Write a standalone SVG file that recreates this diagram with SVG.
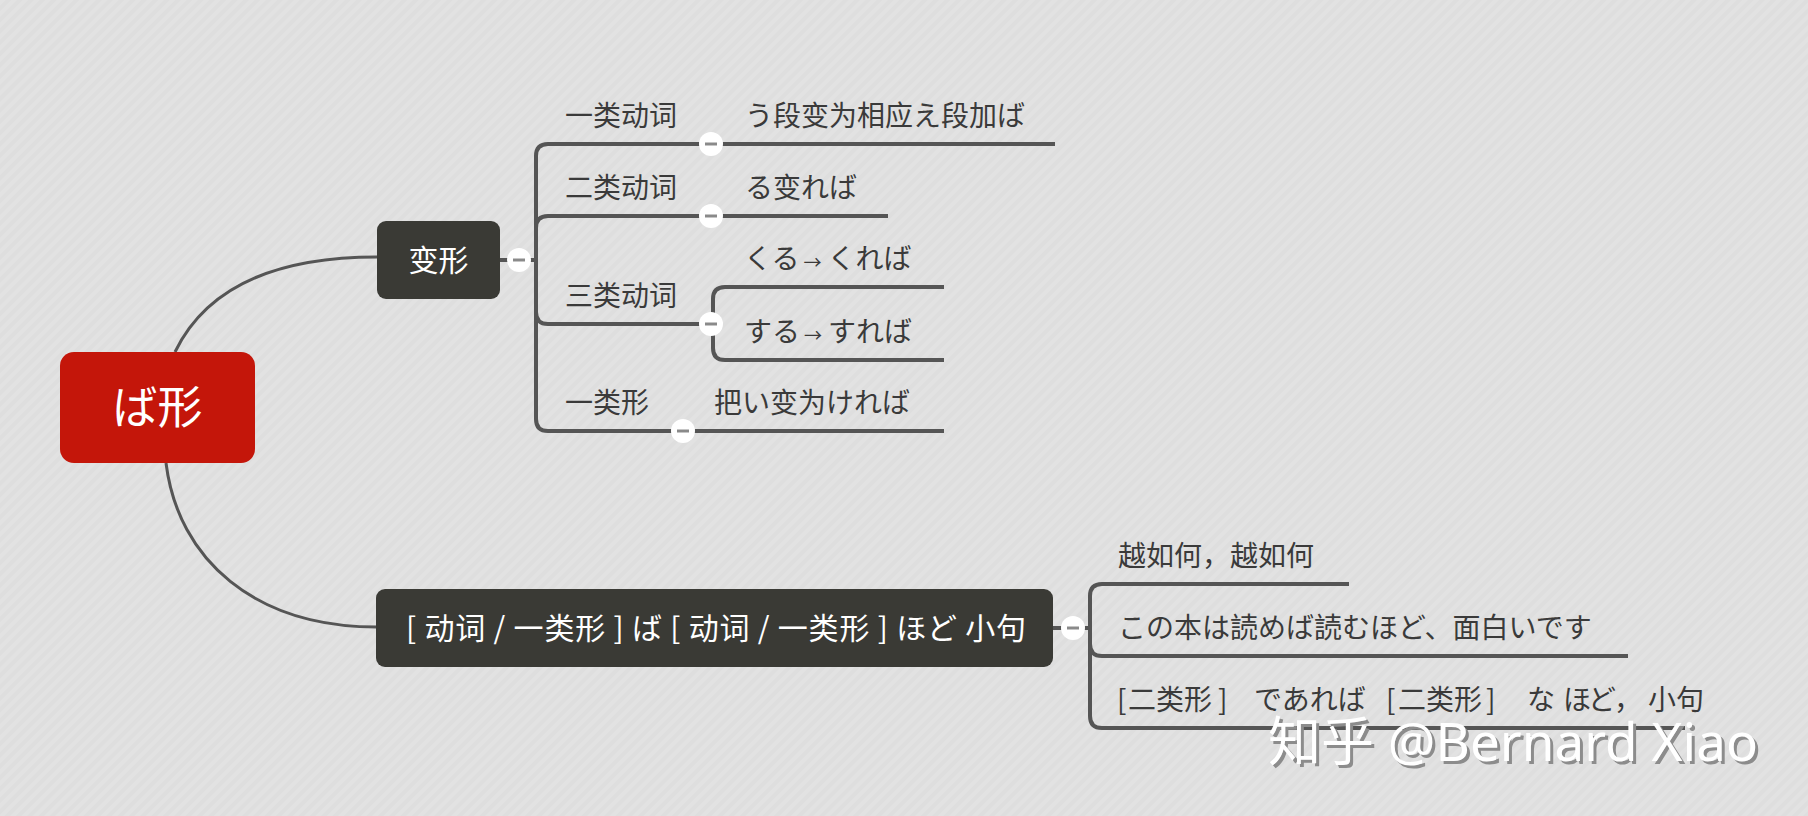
<svg xmlns="http://www.w3.org/2000/svg" width="1808" height="816" viewBox="0 0 1808 816">
<defs>
<pattern id="bg" width="8" height="8" patternUnits="userSpaceOnUse" patternTransform="rotate(45)">
<rect width="8" height="8" fill="#dedede"/>
<rect width="4" height="8" fill="#e2e2e2"/>
</pattern>
<g id="btn"><circle r="12" fill="#ffffff"/><line x1="-6" y1="0" x2="6" y2="0" stroke="#8a8a8a" stroke-width="3"/></g>
</defs>
<style>
.t{font-family:"Noto Sans CJK SC","Noto Sans CJK JP",sans-serif;font-size:28px;fill:#3a3a3a}
.w{font-family:"Noto Sans CJK SC","Noto Sans CJK JP",sans-serif;fill:#ffffff}
.br{fill:none;stroke:#555555;stroke-width:4}
.rc{fill:none;stroke:#555555;stroke-width:3}
.dark{fill:#3a3a35}
.wm{font-family:"Noto Sans","Noto Sans CJK SC",sans-serif;font-size:53px}
</style>
<rect width="1808" height="816" fill="url(#bg)"/>

<g id="connectors">
<path class="rc" d="M175,352 C205,290 270,257 377,257"/>
<path class="rc" d="M166,463 C178,560 255,627 377,627"/>
<path class="br" d="M500,260 H536"/>
<path class="br" d="M536,260 V156 Q536,144 548,144 H1055"/>
<path class="br" d="M536,260 V228 Q536,216 548,216 H888"/>
<path class="br" d="M536,260 V312 Q536,324 548,324 H713"/>
<path class="br" d="M536,260 V419 Q536,431 548,431 H944"/>
<path class="br" d="M713,324 V299 Q713,287 725,287 H944"/>
<path class="br" d="M713,324 V348 Q713,360 725,360 H944"/>
<path class="br" d="M1053,628 H1090"/>
<path class="br" d="M1090,628 V596 Q1090,584 1102,584 H1349"/>
<path class="br" d="M1090,628 V644 Q1090,656 1102,656 H1628"/>
<path class="br" d="M1090,628 V716 Q1090,728 1102,728 H1685"/>
<use href="#btn" x="519" y="260"/>
<use href="#btn" x="711" y="144"/>
<use href="#btn" x="711" y="216"/>
<use href="#btn" x="711" y="324"/>
<use href="#btn" x="683" y="431"/>
<use href="#btn" x="1073" y="628"/>
</g>

<g id="root">
<rect x="60" y="352" width="195" height="111" rx="14" fill="#c4160a"/>
<text class="w" x="157.5" y="424" font-size="45" text-anchor="middle">ば形</text>
</g>

<g id="henkei">
<rect class="dark" x="377" y="221" width="123" height="78" rx="9"/>
<text class="w" x="438.5" y="271" font-size="30" text-anchor="middle">变形</text>
</g>

<g id="ichirui-doushi"><text class="t" x="565" y="126">一类动词</text></g>
<g id="ichirui-doushi-rule"><text class="t" x="745" y="126">う段变为相应え段加ば</text></g>
<g id="nirui-doushi"><text class="t" x="565" y="198">二类动词</text></g>
<g id="nirui-doushi-rule"><text class="t" x="745" y="198">る变れば</text></g>
<g id="sanrui-doushi"><text class="t" x="565" y="306">三类动词</text></g>
<g id="kuru"><text class="t" x="744" y="269">くる<tspan font-size="18" dx="4">→</tspan><tspan dx="6">くれば</tspan></text></g>
<g id="suru"><text class="t" x="744" y="342">する<tspan font-size="18" dx="4">→</tspan><tspan dx="6">すれば</tspan></text></g>
<g id="ichirui-kei"><text class="t" x="565" y="413">一类形</text></g>
<g id="ichirui-kei-rule"><text class="t" x="714" y="413">把い变为ければ</text></g>

<g id="hodo">
<rect class="dark" x="376" y="589" width="677" height="78" rx="9"/>
<text class="w" x="716" y="639" font-size="30" text-anchor="middle" textLength="620" lengthAdjust="spacing">[ 动词 / 一类形 ] ば [ 动词 / 一类形 ] ほど 小句</text>
</g>

<g id="meaning"><text class="t" x="1118" y="566">越如何，越如何</text></g>
<g id="example"><text class="t" x="1118" y="638">この本は読めば読むほど、面白いです</text></g>
<g id="nirui-kei"><text class="t" y="710"><tspan x="1117">[</tspan><tspan x="1128">二类形</tspan><tspan x="1218">]</tspan><tspan x="1254">であれば</tspan><tspan x="1386">[</tspan><tspan x="1398">二类形</tspan><tspan x="1486">]</tspan><tspan x="1527">な</tspan><tspan x="1563">ほ</tspan><tspan x="1588">ど</tspan><tspan x="1614">，</tspan><tspan x="1648">小句</tspan></text></g>

<g id="watermark">
<text class="wm" x="1271" y="764" fill="#8c8c8c" textLength="490" lengthAdjust="spacingAndGlyphs">知乎 @Bernard Xiao</text>
<text class="wm" x="1268" y="761" fill="#ffffff" textLength="490" lengthAdjust="spacingAndGlyphs">知乎 @Bernard Xiao</text>
</g>
</svg>
